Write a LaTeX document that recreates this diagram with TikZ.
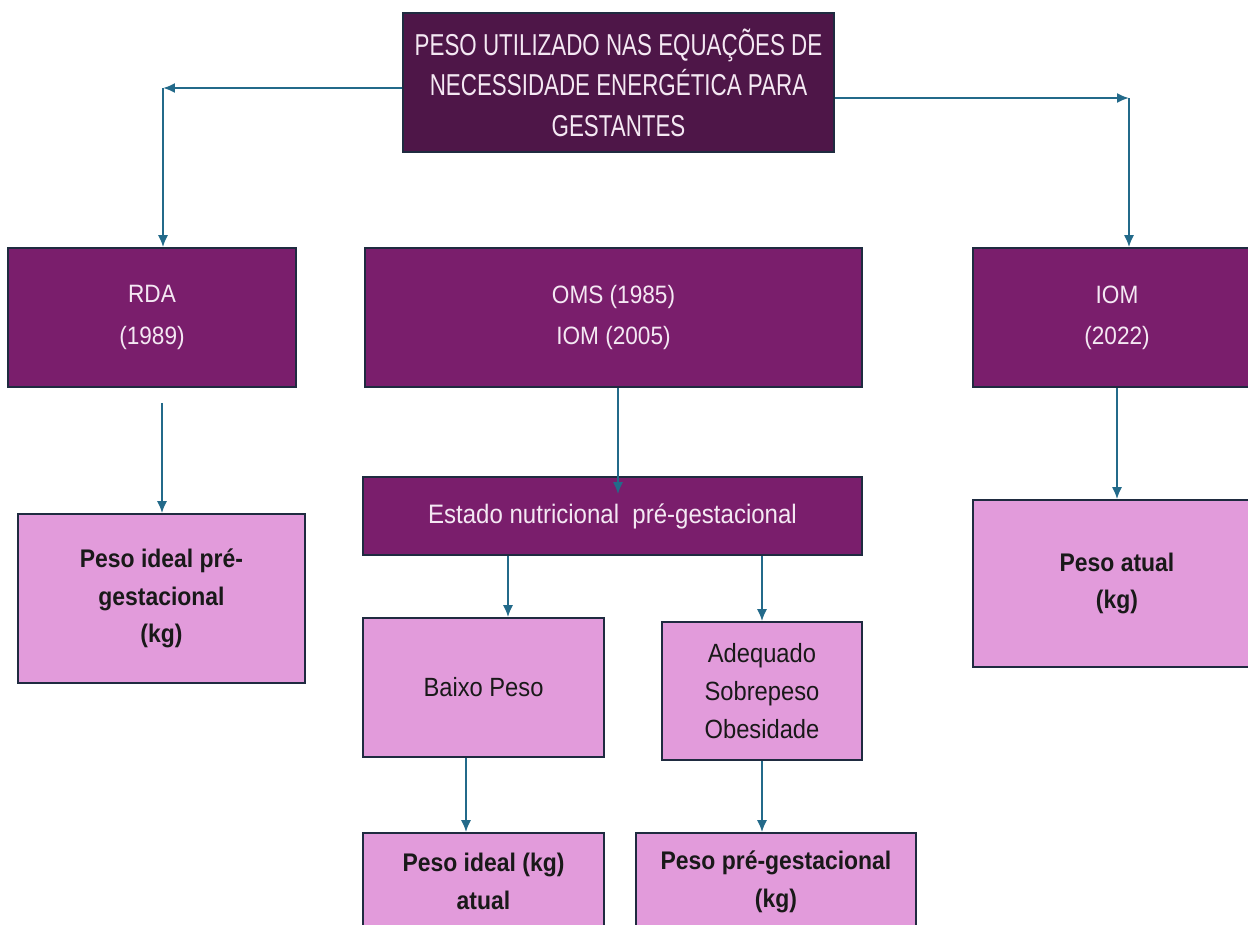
\documentclass[tikz,border=0pt]{standalone}
\usepackage{fontspec}
\setmainfont{Liberation Sans}[FakeStretch=0.9]
\newfontfamily\titlefont{Liberation Sans}[FakeStretch=0.74]
\usetikzlibrary{arrows.meta}
\definecolor{darkplum}{HTML}{4E1648}
\definecolor{plum}{HTML}{7A1E6C}
\definecolor{lightplum}{HTML}{E29BDB}
\definecolor{edgeblue}{HTML}{1F2B40}
\definecolor{linkblue}{HTML}{236A8A}
\definecolor{paletext}{HTML}{F4E8F3}
\tikzset{
  box/.style={draw=edgeblue, line width=0.9pt, rectangle, align=center, inner sep=0pt},
  titlebox/.style={box, fill=darkplum, text=paletext, font=\titlefont\fontsize{17.2}{23}\selectfont},
  darkbox/.style={box, fill=plum, text=paletext, font=\fontsize{14.3}{23.5}\selectfont},
  lightbox/.style={box, fill=lightplum, text=black!90, font=\bfseries\fontsize{14.5}{21.5}\selectfont},
  plainbox/.style={box, fill=lightplum, text=black!90, font=\fontsize{15}{21.5}\selectfont},
  link/.style={draw=linkblue, line width=1.1pt, -{Latex[length=2.4mm,width=2mm]}}
}

\begin{document}
\begin{tikzpicture}[x=0.02cm,y=-0.02cm]
        \useasboundingbox (0,0) rectangle (1248,924);

        \node[titlebox, minimum width=8.62cm, minimum height=2.78cm] (title) at (618.5,82.5) {PESO UTILIZADO NAS EQUAÇÕES DE\\NECESSIDADE ENERGÉTICA PARA\\GESTANTES};

        \node[darkbox, minimum width=5.76cm, minimum height=2.78cm] (rda) at (152,317.5) {RDA\\(1989)};
        \node[darkbox, minimum width=9.94cm, minimum height=2.78cm] (oms) at (613.5,317.5) {OMS (1985)\\IOM (2005)};
        \node[darkbox, minimum width=5.76cm, minimum height=2.78cm] (iom) at (1117,317.5) {IOM\\(2022)};

        \node[lightbox, minimum width=5.74cm, minimum height=3.38cm] (pideal) at (161.5,598.5) {Peso ideal pré-\\gestacional\\(kg)};
        \node[darkbox, font=\fontsize{15.2}{20}\selectfont, minimum width=9.98cm, minimum height=1.56cm] (estado) at (612.5,516) {Estado nutricional~~pré-gestacional};
        \node[lightbox, minimum width=5.76cm, minimum height=3.34cm] (patual) at (1117,583.5) {Peso atual\\(kg)};

        \node[plainbox, minimum width=4.82cm, minimum height=2.78cm] (baixo) at (483.5,687.5) {Baixo Peso};
        \node[plainbox, minimum width=4.0cm, minimum height=2.76cm] (adeq) at (762,691) {Adequado\\Sobrepeso\\Obesidade};

        \node[lightbox, minimum width=4.82cm, minimum height=1.94cm] (pidealatual) at (483.5,881.5) {Peso ideal (kg)\\atual};
        \node[lightbox, minimum width=5.6cm, minimum height=1.94cm] (ppre) at (776,881.5) {Peso pré-gestacional\\(kg)};

        \coordinate (lc) at (163,88);
        \coordinate (rc) at (1129,98);
        \coordinate (rx) at (162,0);
        \coordinate (ox) at (618,0);
        \coordinate (bx) at (508,0);
        \coordinate (bl) at (466,0);

        \draw[link] (title.west |- lc) -- (lc);
        \draw[link] (lc) -- (lc |- rda.north);
        \draw[link] (title.east |- rc) -- (rc);
        \draw[link] (rc) -- (rc |- iom.north);

        \draw[link] ([yshift=-0.3cm]rda.south -| rx) -- (pideal.north -| rx);
        \draw[link] (oms.south -| ox) -- ([yshift=-0.36cm]estado.north -| ox);
        \draw[link] (iom.south) -- (patual.north);

        \draw[link] (estado.south -| bx) -- (baixo.north -| bx);
        \draw[link] (estado.south -| adeq.north) -- (adeq.north);
        \draw[link] (baixo.south -| bl) -- (pidealatual.north -| bl);
        \draw[link] (adeq.south) -- (ppre.north -| adeq.south);
\end{tikzpicture}
\end{document}
